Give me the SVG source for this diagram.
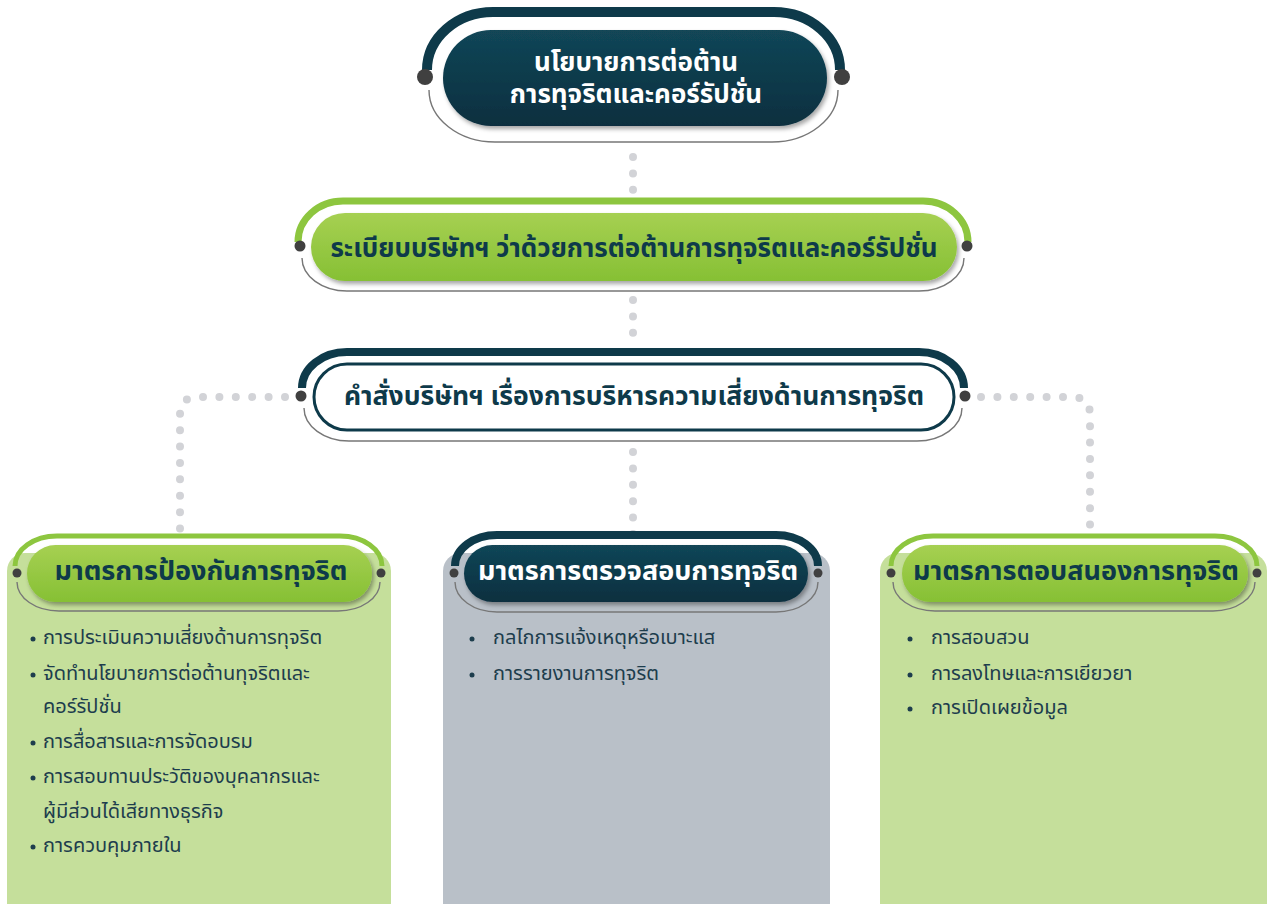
<svg xmlns="http://www.w3.org/2000/svg" width="1274" height="904" viewBox="0 0 1274 904">
  <defs>
    <linearGradient id="navyFill" x1="0" y1="0" x2="0" y2="1">
      <stop offset="0" stop-color="#124657"/>
      <stop offset="1" stop-color="#0a2f3f"/>
    </linearGradient>
    <linearGradient id="greenFill" x1="0" y1="0" x2="0" y2="1">
      <stop offset="0" stop-color="#a6d052"/>
      <stop offset="1" stop-color="#86c034"/>
    </linearGradient>
    <filter id="shadow" x="-10%" y="-20%" width="120%" height="150%">
      <feDropShadow dx="2" dy="3" stdDeviation="2" flood-color="#000" flood-opacity="0.35"/>
    </filter>
  </defs>
  <style>
    .thai { font-family: "Noto Sans Thai", "Noto Sans", "DejaVu Sans", sans-serif; }
    .title { font-weight: bold; text-anchor: middle; }
    .navyTxt { fill: #0e3a4a; }
    .whiteTxt { fill: #ffffff; }
    .item { font-size: 20px; fill: #1d3d4d; }
    .arcNavy { fill: none; stroke: #0e3a4a; stroke-linecap: butt; }
    .arcGreen { fill: none; stroke: #8dc63f; stroke-linecap: butt; }
    .arcGray { fill: none; stroke: #777777; stroke-width: 1.4; }
    .knob { fill: #404040; }
    .bullet { fill: #1d3d4d; }
    .link { fill: none; stroke: #d2d3d7; stroke-width: 8; stroke-linecap: round; stroke-dasharray: 0 16.4; }
  </style>

  <!-- panels behind everything -->
  <g id="panels">
    <rect x="7" y="553" width="384" height="380" rx="18" fill="#c5df9b"/>
    <rect x="443" y="553" width="387" height="380" rx="18" fill="#b9c0c8"/>
    <rect x="880" y="553" width="387" height="380" rx="18" fill="#c5df9b"/>
  </g>

  <!-- dotted connectors -->
  <g id="connectors">
    <path class="link" d="M633,157 V190"/>
    <path class="link" d="M633,300 V334"/>
    <path class="link" d="M633,452 V535"/>
    <path class="link" d="M285,397 H198 Q180,397 180,415 V532"/>
    <path class="link" d="M981,397 H1072 Q1090,397 1090,415 V532"/>
  </g>

  <!-- top: policy -->
  <g id="node-policy">
    <path class="arcNavy" stroke-width="10" d="M427,70 A66 58 0 0 1 493,12 H774 A66 58 0 0 1 840,70"/>
    <path class="arcGray" d="M429,90 A66 52 0 0 0 495,142 H772 A66 52 0 0 0 838,90"/>
    <rect x="443" y="30" width="384" height="96" rx="48" fill="url(#navyFill)" filter="url(#shadow)"/>
    <circle class="knob" cx="425" cy="77" r="8"/>
    <circle class="knob" cx="842" cy="77" r="8"/>
    <text class="thai title whiteTxt" font-size="26"><tspan x="636" y="71">นโยบายการต่อต้าน</tspan><tspan x="636" y="103">การทุจริตและคอร์รัปชั่น</tspan></text>
  </g>

  <!-- second: regulation -->
  <g id="node-regulation">
    <path class="arcGreen" stroke-width="7" d="M298,242 A45 41 0 0 1 343,201 H923 A45 41 0 0 1 968,242"/>
    <path class="arcGray" d="M302,258 A45 33 0 0 0 347,291 H919 A45 33 0 0 0 964,258"/>
    <rect x="311" y="213" width="646" height="68" rx="34" fill="url(#greenFill)" filter="url(#shadow)"/>
    <circle class="knob" cx="300" cy="246" r="5.5"/>
    <circle class="knob" cx="967" cy="246" r="5.5"/>
    <text class="thai title navyTxt" x="634" y="257" font-size="26">ระเบียบบริษัทฯ ว่าด้วยการต่อต้านการทุจริตและคอร์รัปชั่น</text>
  </g>

  <!-- third: order -->
  <g id="node-order">
    <path class="arcNavy" stroke-width="8" d="M302,388 A45 36 0 0 1 347,352 H919 A45 36 0 0 1 964,388"/>
    <path class="arcGray" d="M304,408 A45 33 0 0 0 349,441 H917 A45 33 0 0 0 962,408"/>
    <rect x="314" y="364" width="640" height="66" rx="33" fill="#ffffff" stroke="#0e3a4a" stroke-width="3"/>
    <circle class="knob" cx="301" cy="396" r="5.5"/>
    <circle class="knob" cx="965" cy="396" r="5.5"/>
    <text class="thai title navyTxt" x="634" y="405" font-size="26.5">คำสั่งบริษัทฯ เรื่องการบริหารความเสี่ยงด้านการทุจริต</text>
  </g>

  <!-- prevention -->
  <g id="node-prevention">
    <path class="arcGreen" stroke-width="5" d="M15,566 A42 30 0 0 1 57,536 H340 A42 30 0 0 1 382,566"/>
    <path class="arcGray" d="M17,582 A42 29 0 0 0 59,611 H338 A42 29 0 0 0 380,582"/>
    <rect x="27" y="545" width="345" height="57" rx="28.5" fill="url(#greenFill)" filter="url(#shadow)"/>
    <circle class="knob" cx="17" cy="573" r="4.5"/>
    <circle class="knob" cx="381" cy="573" r="4.5"/>
    <text class="thai title navyTxt" x="201" y="580" font-size="27">มาตรการป้องกันการทุจริต</text>
    <g class="thai item">
      <circle class="bullet" cx="33" cy="639" r="2.5"/>
      <text x="43" y="644">การประเมินความเสี่ยงด้านการทุจริต</text>
      <circle class="bullet" cx="33" cy="675" r="2.5"/>
      <text x="43" y="680">จัดทำนโยบายการต่อต้านทุจริตและ</text>
      <text x="43" y="713">คอร์รัปชั่น</text>
      <circle class="bullet" cx="33" cy="743" r="2.5"/>
      <text x="43" y="748">การสื่อสารและการจัดอบรม</text>
      <circle class="bullet" cx="33" cy="778" r="2.5"/>
      <text x="43" y="783">การสอบทานประวัติของบุคลากรและ</text>
      <text x="43" y="818">ผู้มีส่วนได้เสียทางธุรกิจ</text>
      <circle class="bullet" cx="33" cy="847" r="2.5"/>
      <text x="43" y="852">การควบคุมภายใน</text>
    </g>
  </g>

  <!-- detection -->
  <g id="node-detection">
    <path class="arcNavy" stroke-width="8" d="M455,566 A42 31 0 0 1 497,535 H776 A42 31 0 0 1 818,566"/>
    <path class="arcGray" d="M455,582 A42 30 0 0 0 497,612 H776 A42 30 0 0 0 818,582"/>
    <rect x="464" y="545" width="344" height="57" rx="28.5" fill="url(#navyFill)" filter="url(#shadow)"/>
    <circle class="knob" cx="454" cy="573" r="4.5"/>
    <circle class="knob" cx="818" cy="573" r="4.5"/>
    <text class="thai title whiteTxt" x="638" y="580" font-size="27">มาตรการตรวจสอบการทุจริต</text>
    <g class="thai item">
      <circle class="bullet" cx="472" cy="639" r="2.5"/>
      <text x="493" y="644">กลไกการแจ้งเหตุหรือเบาะแส</text>
      <circle class="bullet" cx="472" cy="675" r="2.5"/>
      <text x="493" y="680">การรายงานการทุจริต</text>
    </g>
  </g>

  <!-- response -->
  <g id="node-response">
    <path class="arcGreen" stroke-width="5" d="M891,566 A42 30 0 0 1 933,536 H1215 A42 30 0 0 1 1257,566"/>
    <path class="arcGray" d="M893,582 A42 29 0 0 0 935,611 H1213 A42 29 0 0 0 1255,582"/>
    <rect x="902" y="545" width="346" height="57" rx="28.5" fill="url(#greenFill)" filter="url(#shadow)"/>
    <circle class="knob" cx="891" cy="573" r="4.5"/>
    <circle class="knob" cx="1257" cy="573" r="4.5"/>
    <text class="thai title navyTxt" x="1076" y="580" font-size="27">มาตรการตอบสนองการทุจริต</text>
    <g class="thai item">
      <circle class="bullet" cx="910" cy="639" r="2.5"/>
      <text x="931" y="644">การสอบสวน</text>
      <circle class="bullet" cx="910" cy="675" r="2.5"/>
      <text x="931" y="680">การลงโทษและการเยียวยา</text>
      <circle class="bullet" cx="910" cy="709" r="2.5"/>
      <text x="931" y="714">การเปิดเผยข้อมูล</text>
    </g>
  </g>
</svg>
